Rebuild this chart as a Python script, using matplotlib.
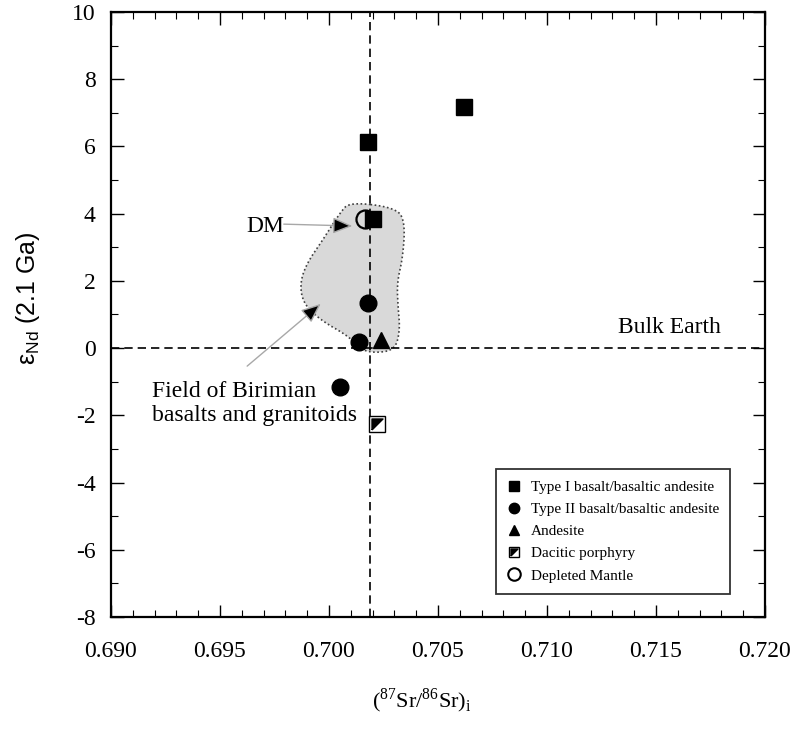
import numpy as np
import matplotlib
matplotlib.use('Agg')
import matplotlib.pyplot as plt
from matplotlib.lines import Line2D
from matplotlib.markers import MarkerStyle
from matplotlib.path import Path
from matplotlib.ticker import MultipleLocator, FormatStrFormatter

plt.rcParams['font.family'] = ['Liberation Serif', 'DejaVu Serif']
plt.rcParams['mathtext.fontset'] = 'custom'
plt.rcParams['mathtext.rm'] = 'Liberation Serif'
plt.rcParams['axes.unicode_minus'] = False

# data
type1_sr = [0.7062, 0.7018, 0.7020]
type1_nd = [7.17, 6.12, 3.84]
type2_sr = [0.7018, 0.7014, 0.7005]
type2_nd = [1.34, 0.18, -1.16]
andesite_sr = [0.7024]
andesite_nd = [0.25]
dacite_sr = [0.7022]
dacite_nd = [-2.26]
dm_sr = [0.70165]
dm_nd = [3.84]

bulk_earth_nd = 0.0
bulk_earth_sr = 0.7019

# outline of the Birimian field
field_sr = [0.70096, 0.70312, 0.70349, 0.70339, 0.70312, 0.70317, 0.70326,
            0.70303, 0.70202, 0.70133, 0.70096, 0.69959, 0.69881, 0.69867,
            0.69899, 0.69972, 0.70050]
field_nd = [4.35, 4.17, 3.72, 2.71, 1.94, 1.22, 0.54,
            -0.06, -0.15, 0.00, 0.33, 0.84, 1.34, 1.94,
            2.53, 3.22, 4.02]


def chaikin(x, y, n=3):
    # corner cutting so the field outline is smooth
    pts = np.column_stack([x, y])
    for _ in range(n):
        nxt = np.roll(pts, -1, axis=0)
        q = 0.75 * pts + 0.25 * nxt
        r = 0.25 * pts + 0.75 * nxt
        pts = np.empty((2 * len(q), 2))
        pts[0::2] = q
        pts[1::2] = r
    return pts


fig = plt.figure(figsize=(8.03, 7.31), dpi=100)
ax = fig.add_axes([0.1382, 0.156, 0.8144, 0.8276])

pts = chaikin(field_sr, field_nd)
ax.fill(pts[:, 0], pts[:, 1], facecolor='#d9d9d9', edgecolor='#404040',
        linestyle=(0, (1, 1.5)), linewidth=1.2, zorder=1)

ax.axhline(bulk_earth_nd, color='black', linestyle=(0, (5, 3)), linewidth=1.2, zorder=2)
ax.axvline(bulk_earth_sr, color='black', linestyle=(0, (5, 3)), linewidth=1.2, zorder=2)

ms = 11
ax.plot(type1_sr, type1_nd, 's', color='black', markersize=ms, zorder=4)
ax.plot(type2_sr, type2_nd, 'o', color='black', markersize=ms + 1, zorder=4)
ax.plot(andesite_sr, andesite_nd, '^', color='black', markersize=ms, zorder=4)
ax.plot(dacite_sr, dacite_nd, 's', markerfacecolor='white', markeredgecolor='black',
        markeredgewidth=1.0, markersize=ms, zorder=4)
half = MarkerStyle(Path([(-1, -1), (-1, 1), (1, 1), (-1, -1)]))
ax.plot(dacite_sr, dacite_nd, marker=half, linestyle='none', color='black',
        markersize=ms * 0.72, zorder=5)
ax.plot(dm_sr, dm_nd, 'o', markerfacecolor='none', markeredgecolor='black',
        markeredgewidth=1.6, markersize=ms + 2, zorder=5)

arrow = dict(arrowstyle='-|>,head_length=0.6,head_width=0.25', ec='#a8a8a8',
             fc='black', lw=1.0, mutation_scale=20)
ax.annotate('', xy=(0.70120, 3.63), xytext=(0.69780, 3.69), arrowprops=arrow, zorder=3)
ax.annotate('', xy=(0.69972, 1.37), xytext=(0.69615, -0.59), arrowprops=arrow, zorder=3)
ax.text(0.6971, 3.62, 'DM', fontsize=17, ha='center', va='center')
ax.text(0.6919, -1.64, 'Field of Birimian\nbasalts and granitoids', fontsize=17,
        ha='left', va='center', linespacing=1.2)
ax.text(0.71326, 0.62, 'Bulk Earth', fontsize=17, ha='left', va='center')

ax.set_xlim(0.690, 0.720)
ax.set_ylim(-8, 10)
ax.xaxis.set_major_locator(MultipleLocator(0.005))
ax.xaxis.set_minor_locator(MultipleLocator(0.001))
ax.yaxis.set_major_locator(MultipleLocator(2))
ax.yaxis.set_minor_locator(MultipleLocator(1))
ax.xaxis.set_major_formatter(FormatStrFormatter('%.3f'))
ax.tick_params(which='both', direction='in', top=True, right=True, labelsize=17)
ax.tick_params(which='major', length=9, width=1.0)
ax.tick_params(which='minor', length=5, width=0.8)
ax.tick_params(axis='x', which='major', pad=17)
ax.tick_params(axis='y', which='major', pad=11)
for s in ax.spines.values():
    s.set_linewidth(1.6)

ax.set_xlabel(r'$(^{87}\mathrm{Sr}/^{86}\mathrm{Sr})_{\mathrm{i}}$', fontsize=16)
ax.xaxis.set_label_coords(0.476, -0.115)
ax.set_ylabel(r'$\mathregular{ε_{Nd}}$ (2.1 Ga)', fontsize=18,
              family=['Liberation Sans', 'DejaVu Sans'])
ax.yaxis.set_label_coords(-0.105, 0.527)

handles = [
    Line2D([], [], marker='s', color='black', linestyle='none', markersize=7),
    Line2D([], [], marker='o', color='black', linestyle='none', markersize=7.5),
    Line2D([], [], marker='^', color='black', linestyle='none', markersize=7),
    (Line2D([], [], marker='s', markerfacecolor='white', markeredgecolor='black',
            linestyle='none', markersize=7),
     Line2D([], [], marker=half, color='black', linestyle='none', markersize=5)),
    Line2D([], [], marker='o', markerfacecolor='none', markeredgecolor='black',
           markeredgewidth=1.5, linestyle='none', markersize=9),
]
labels = ['Type I basalt/basaltic andesite', 'Type II basalt/basaltic andesite',
          'Andesite', 'Dacitic porphyry', 'Depleted Mantle']
leg = ax.legend(handles, labels, loc='lower right', bbox_to_anchor=(0.947, 0.038),
                fontsize=11, frameon=True, fancybox=False, handlelength=0.8,
                handletextpad=0.7, borderpad=0.75, labelspacing=0.55,
                borderaxespad=0)
leg.get_frame().set_edgecolor('black')
leg.get_frame().set_linewidth(1.3)

fig.savefig('out.png', dpi=100)
